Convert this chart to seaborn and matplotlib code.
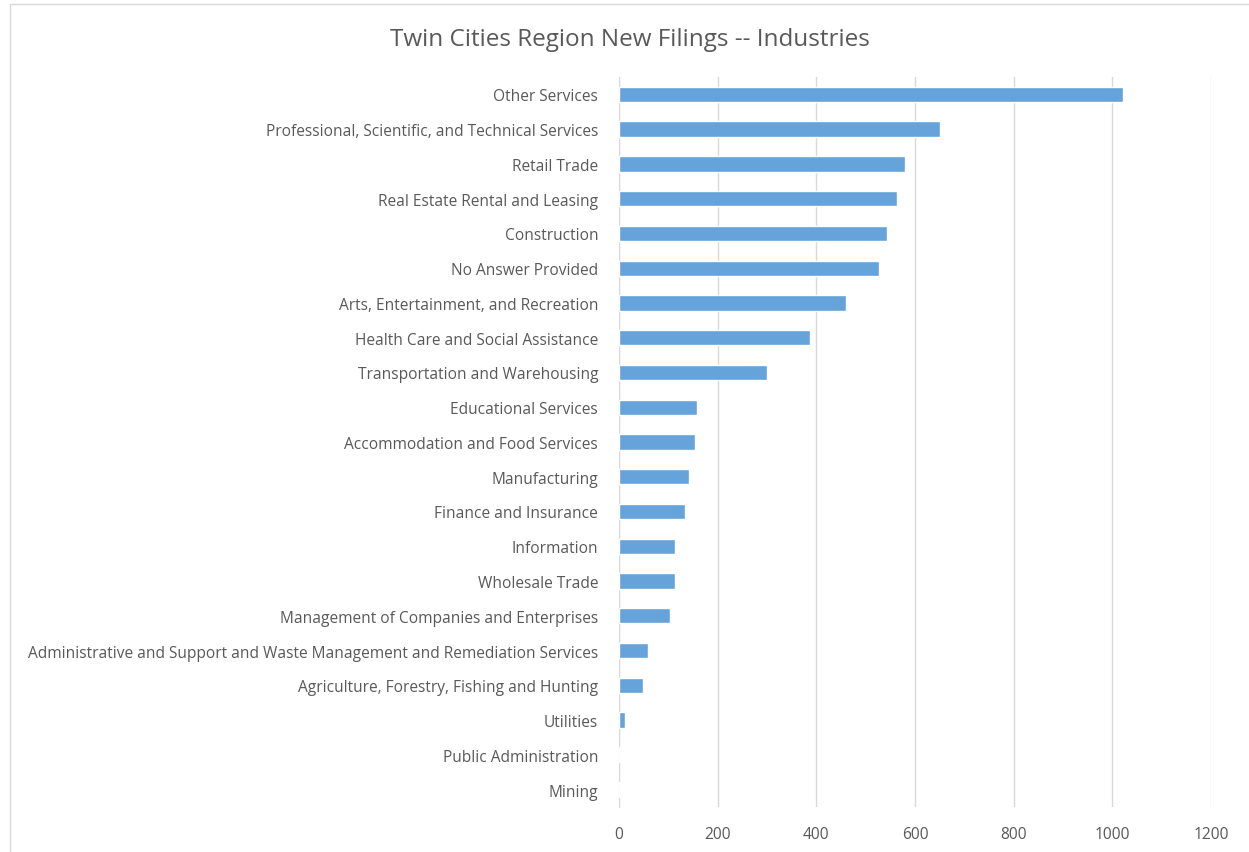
import pandas as pd
import seaborn as sns
import matplotlib.pyplot as plt
from matplotlib.patches import Rectangle

industries = [
    "Other Services",
    "Professional, Scientific, and Technical Services",
    "Retail Trade",
    "Real Estate Rental and Leasing",
    "Construction",
    "No Answer Provided",
    "Arts, Entertainment, and Recreation",
    "Health Care and Social Assistance",
    "Transportation and Warehousing",
    "Educational Services",
    "Accommodation and Food Services",
    "Manufacturing",
    "Finance and Insurance",
    "Information",
    "Wholesale Trade",
    "Management of Companies and Enterprises",
    "Administrative and Support and Waste Management and Remediation Services",
    "Agriculture, Forestry, Fishing and Hunting",
    "Utilities",
    "Public Administration",
    "Mining",
]
filings = [1022, 651, 579, 564, 543, 526, 461, 388, 299, 158, 154, 142,
           133, 113, 114, 103, 59, 48, 12, 3, 3]
x_ticks = [0, 200, 400, 600, 800, 1000, 1200]

data = pd.DataFrame({"Industry": industries, "Filings": filings})

sns.set_style("white")
plt.rcParams["font.family"] = ["Open Sans", "DejaVu Sans"]

fig = plt.figure(figsize=(12.49, 8.53), dpi=100)
ax = fig.add_axes([0.4956, 0.0528, 0.474, 0.8558])

sns.barplot(data=data, x="Filings", y="Industry", orient="h",
            color="#65A3DA", width=0.44, saturation=1, ax=ax, zorder=3)

ax.set_xlim(0, 1200)
ax.set_ylim(len(industries) - 0.5, -0.5)
ax.set_xticks(x_ticks)
ax.xaxis.grid(True, color="#D9D9D9", linewidth=1)
ax.set_axisbelow(True)
for s in ["top", "right", "bottom"]:
    ax.spines[s].set_visible(False)
ax.spines["left"].set_color("#D9D9D9")
ax.spines["left"].set_zorder(1)
ax.tick_params(axis="both", length=0, labelsize=11.2, labelcolor="#595959")
ax.tick_params(axis="x", pad=14)
ax.tick_params(axis="y", pad=15)
ax.set_xlabel("")
ax.set_ylabel("")

fig.text(0.504, 0.953, "Twin Cities Region New Filings -- Industries",
         ha="center", va="center", fontsize=17.5, color="#595959")

fig.patches.append(Rectangle((10 / 1249, -0.01), 1.0, 1 - 5 / 853 + 0.01,
                             transform=fig.transFigure, fill=False,
                             edgecolor="#D9D9D9", linewidth=1))

fig.savefig("out.png", dpi=100)
